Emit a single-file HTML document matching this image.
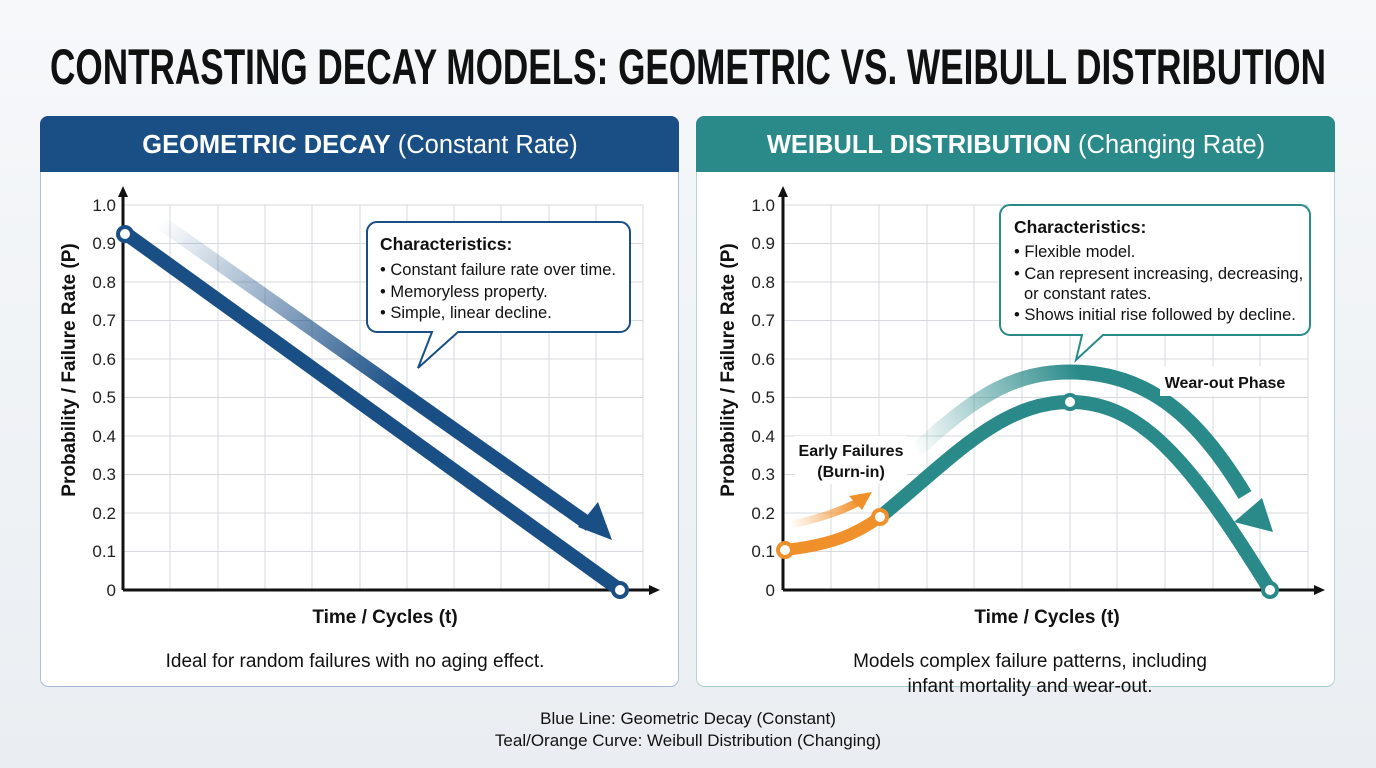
<!DOCTYPE html>
<html><head><meta charset="utf-8"><style>
html,body{margin:0;padding:0;background:#f1f4f7;}
svg{display:block;font-family:"Liberation Sans",sans-serif;}
</style></head><body>
<svg width="1376" height="768" viewBox="0 0 1376 768" xmlns="http://www.w3.org/2000/svg">
<defs>
<linearGradient id="bg" x1="0" y1="0" x2="0" y2="1"><stop offset="0" stop-color="#f6f8fa"/><stop offset="1" stop-color="#eaeef2"/></linearGradient>
<linearGradient id="fadeB" x1="160" y1="222" x2="400" y2="390" gradientUnits="userSpaceOnUse"><stop offset="0" stop-color="#1a4f86" stop-opacity="0"/><stop offset="1" stop-color="#1a4f86"/></linearGradient>
<linearGradient id="fadeT" x1="915" y1="450" x2="1080" y2="375" gradientUnits="userSpaceOnUse"><stop offset="0" stop-color="#2a8a8a" stop-opacity="0"/><stop offset="1" stop-color="#2a8a8a"/></linearGradient>
<linearGradient id="fadeO" x1="790" y1="525" x2="860" y2="505" gradientUnits="userSpaceOnUse"><stop offset="0" stop-color="#f0902a" stop-opacity="0"/><stop offset="1" stop-color="#f0902a"/></linearGradient>
</defs>
<rect width="1376" height="768" fill="url(#bg)"/>
<text x="688" y="84" text-anchor="middle" font-family="Liberation Sans Narrow, Liberation Sans, sans-serif" font-weight="bold" font-size="50" textLength="1276" lengthAdjust="spacingAndGlyphs" fill="#111">CONTRASTING DECAY MODELS: GEOMETRIC VS. WEIBULL DISTRIBUTION</text>

<!-- left panel -->
<rect x="40" y="116" width="639" height="570" rx="8" fill="#fff"/>
<path d="M48,116H671a8,8 0 0 1 8,8V172H40V124a8,8 0 0 1 8,-8z" fill="#1a4f86"/>
<rect x="40.5" y="116.5" width="638" height="570" rx="8" fill="none" stroke="#1a4f86" stroke-opacity="0.35"/>
<text x="360" y="153" text-anchor="middle" font-size="25.5" fill="#fff"><tspan font-weight="bold">GEOMETRIC DECAY</tspan> (Constant Rate)</text>

<!-- right panel -->
<rect x="696" y="116" width="639" height="570" rx="8" fill="#fff"/>
<path d="M704,116H1327a8,8 0 0 1 8,8V172H696V124a8,8 0 0 1 8,-8z" fill="#2a8a8a"/>
<rect x="696.5" y="116.5" width="638" height="570" rx="8" fill="none" stroke="#2a8a8a" stroke-opacity="0.35"/>
<text x="1016" y="153" text-anchor="middle" font-size="25.5" fill="#fff"><tspan font-weight="bold">WEIBULL DISTRIBUTION</tspan> (Changing Rate)</text>

<!-- grids -->
<g stroke="#d6d9dd" stroke-width="1">
<path d="M123,205H643M123,243.5H643M123,282H643M123,320.5H643M123,359H643M123,397.5H643M123,436H643M123,474.5H643M123,513H643M123,551.5H643"/>
<path d="M170,205V590M218,205V590M265,205V590M312,205V590M360,205V590M407,205V590M454,205V590M501,205V590M549,205V590M596,205V590M643,205V590"/>
<path d="M783,205H1308M783,243.5H1308M783,282H1308M783,320.5H1308M783,359H1308M783,397.5H1308M783,436H1308M783,474.5H1308M783,513H1308M783,551.5H1308"/>
<path d="M831,205V590M879,205V590M927,205V590M974,205V590M1022,205V590M1070,205V590M1117,205V590M1165,205V590M1213,205V590M1260,205V590M1308,205V590"/>
</g>
<!-- axes -->
<g stroke="#111" stroke-width="3" fill="none">
<path d="M123,590V195"/><path d="M123,590H650"/>
<path d="M783,590V195"/><path d="M783,590H1315"/>
</g>
<g fill="#111">
<path d="M123,186L118,197H128z"/><path d="M660,590L649,585V595z"/>
<path d="M783,186L778,197H788z"/><path d="M1325,590L1314,585V595z"/>
</g>
<g font-size="17" fill="#222" text-anchor="end">
<text x="116" y="211">1.0</text><text x="116" y="249">0.9</text><text x="116" y="288">0.8</text><text x="116" y="326">0.7</text><text x="116" y="365">0.6</text><text x="116" y="403">0.5</text><text x="116" y="442">0.4</text><text x="116" y="480">0.3</text><text x="116" y="519">0.2</text><text x="116" y="557">0.1</text><text x="116" y="596">0</text>
<text x="775" y="211">1.0</text><text x="775" y="249">0.9</text><text x="775" y="288">0.8</text><text x="775" y="326">0.7</text><text x="775" y="365">0.6</text><text x="775" y="403">0.5</text><text x="775" y="442">0.4</text><text x="775" y="480">0.3</text><text x="775" y="519">0.2</text><text x="775" y="557">0.1</text><text x="775" y="596">0</text>
</g>
<g font-size="19" font-weight="bold" fill="#111" text-anchor="middle">
<text x="385" y="623">Time / Cycles (t)</text>
<text x="1047" y="623">Time / Cycles (t)</text>
<text transform="translate(75,370) rotate(-90)">Probability / Failure Rate (P)</text>
<text transform="translate(734,370) rotate(-90)">Probability / Failure Rate (P)</text>
</g>

<!-- left series -->
<path d="M160,222L590,525" stroke="url(#fadeB)" stroke-width="14" fill="none"/>
<path d="M612,540L578,527L598,502z" fill="#1a4f86"/>
<path d="M125,233L620,590" stroke="#1a4f86" stroke-width="14" fill="none" stroke-linecap="round"/>
<circle cx="125" cy="234" r="7" fill="#fff" stroke="#1a4f86" stroke-width="4"/>
<circle cx="620" cy="590" r="7" fill="#fff" stroke="#1a4f86" stroke-width="4"/>

<!-- left callout -->
<path d="M377,222H620a10,10 0 0 1 10,10V322a10,10 0 0 1 -10,10H458L418,368L432,332H377a10,10 0 0 1 -10,-10V232a10,10 0 0 1 10,-10z" fill="#fff" stroke="#1a4f86" stroke-width="2"/>
<g font-size="16.5" fill="#111">
<text x="380" y="250" font-weight="bold" font-size="17.5">Characteristics:</text>
<text x="380" y="275">• Constant failure rate over time.</text>
<text x="380" y="297">• Memoryless property.</text>
<text x="380" y="318">• Simple, linear decline.</text>
</g>

<!-- right series -->
<path d="M915,452C980,390 1020,372 1070,372C1150,372 1200,420 1245,495" stroke="url(#fadeT)" stroke-width="15" fill="none"/>
<path d="M1273,532L1234,522L1262,498z" fill="#2a8a8a"/>
<path d="M880,517C950,460 1000,402 1070,402C1140,402 1190,460 1270,590" stroke="#2a8a8a" stroke-width="14" fill="none" stroke-linecap="round"/>
<path d="M790,525C820,518 840,512 862,500" stroke="url(#fadeO)" stroke-width="8" fill="none"/>
<path d="M872,492L849,496L862,510z" fill="#f0902a"/>
<path d="M785,550C830,545 855,535 880,517" stroke="#f0902a" stroke-width="12" fill="none" stroke-linecap="round"/>
<circle cx="785" cy="550" r="7" fill="#fff" stroke="#f0902a" stroke-width="4"/>
<circle cx="880" cy="517" r="7" fill="#fff" stroke="#f0902a" stroke-width="4"/>
<circle cx="1070" cy="402" r="7" fill="#fff" stroke="#2a8a8a" stroke-width="4"/>
<circle cx="1270" cy="590" r="7" fill="#fff" stroke="#2a8a8a" stroke-width="4"/>
<rect x="1160" y="366" width="140" height="30" fill="#fff"/>
<text x="1225" y="388" text-anchor="middle" font-size="16" font-weight="bold" fill="#111">Wear-out Phase</text>
<rect x="795" y="436" width="112" height="48" fill="#fff"/>
<text x="851" y="456" text-anchor="middle" font-size="16" font-weight="bold" fill="#111">Early Failures</text>
<text x="851" y="477" text-anchor="middle" font-size="16" font-weight="bold" fill="#111">(Burn-in)</text>

<!-- right callout -->
<path d="M1010,205H1300a10,10 0 0 1 10,10V325a10,10 0 0 1 -10,10H1103L1076,360L1082,335H1010a10,10 0 0 1 -10,-10V215a10,10 0 0 1 10,-10z" fill="#fff" stroke="#2a8a8a" stroke-width="2"/>
<g font-size="16.5" fill="#111">
<text x="1014" y="233" font-weight="bold" font-size="17.5">Characteristics:</text>
<text x="1014" y="257">• Flexible model.</text>
<text x="1014" y="279">• Can represent increasing, decreasing,</text>
<text x="1024" y="299">or constant rates.</text>
<text x="1014" y="320">• Shows initial rise followed by decline.</text>
</g>

<!-- captions -->
<g font-size="19" fill="#111" text-anchor="middle">
<text x="355" y="667">Ideal for random failures with no aging effect.</text>
<text x="1030" y="667">Models complex failure patterns, including</text>
<text x="1030" y="692">infant mortality and wear-out.</text>
</g>
<g font-size="17" fill="#111" text-anchor="middle">
<text x="688" y="724">Blue Line: Geometric Decay (Constant)</text>
<text x="688" y="746">Teal/Orange Curve: Weibull Distribution (Changing)</text>
</g>
</svg>
</body></html>
